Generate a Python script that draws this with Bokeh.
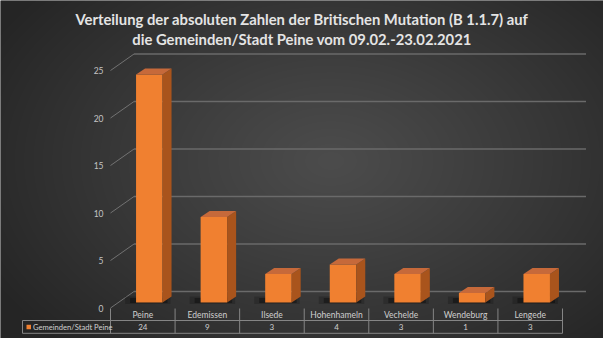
import numpy as np
from bokeh.plotting import figure
from bokeh.models import Range1d, Label, ColumnDataSource
from bokeh.core.properties import value
from bokeh.embed import file_html
from bokeh.resources import INLINE

# ---------------- data ----------------
categories = ["Peine", "Edemissen", "Ilsede", "Hohenhameln", "Vechelde", "Wendeburg", "Lengede"]
counts = [24, 9, 3, 4, 3, 1, 3]
series_name = "Gemeinden/Stadt Peine"
y_ticks = [0, 5, 10, 15, 20, 25]
title_lines = [
    "Verteilung der absoluten Zahlen der Britischen Mutation (B 1.1.7) auf",
    "die Gemeinden/Stadt Peine vom 09.02.-23.02.2021",
]

# ---------------- geometry helpers ----------------
W, H = 603, 338
COL = 64.57   # px per category band
KY = 9.5      # px per value unit
X0 = 142.3    # px centre of first category
Y0 = 307.5    # px (from top) of value 0 on the front plane


def dx(px):
    return px / COL


def dy(px):
    return px / KY


x_range = Range1d(-X0 / COL, (W - X0) / COL)
y_range = Range1d(-(H - Y0) / KY, Y0 / KY)

p = figure(width=W, height=H, x_range=x_range, y_range=y_range,
           output_backend="svg", toolbar_location=None, min_border=0)
p.axis.visible = False
p.grid.visible = False
p.outline_line_color = None
p.background_fill_color = "#333333"
p.border_fill_color = "#333333"

# ---------------- background radial gradient ----------------
yy, xx = np.mgrid[0:H, 0:W]
d = np.sqrt(((xx - 330) / 390.0) ** 2 + ((yy - 160) / 260.0) ** 2)
t = np.clip(d, 0, 1) ** 1.1
c_in = np.array([0x4c, 0x4c, 0x4c], float)
c_out = np.array([0x25, 0x25, 0x25], float)
img = np.empty((H, W), dtype=np.uint32)
view = img.view(dtype=np.uint8).reshape((H, W, 4))
for k in range(3):
    view[:, :, k] = np.flipud(c_in[k] + (c_out[k] - c_in[k]) * t).astype(np.uint8)
view[:, :, 3] = 255
p.image_rgba(image=[img], x=x_range.start, y=y_range.start,
             dw=x_range.end - x_range.start, dh=y_range.end - y_range.start)

# ---------------- 3D frame: back wall grid + left diagonals ----------------
DEPTH_X, DEPTH_Y = dx(23.5), dy(16.5)
left_edge = -0.5
right_edge = len(categories) - 0.5
p.segment(x0=[left_edge + DEPTH_X] * len(y_ticks), y0=[v + DEPTH_Y for v in y_ticks],
          x1=[right_edge + DEPTH_X] * len(y_ticks), y1=[v + DEPTH_Y for v in y_ticks],
          line_color="#6a6a6a", line_width=1.4)
p.segment(x0=[left_edge] * len(y_ticks), y0=y_ticks,
          x1=[left_edge + DEPTH_X] * len(y_ticks), y1=[v + DEPTH_Y for v in y_ticks],
          line_color="#727272", line_width=1)

# y tick labels
p.text(x=[left_edge - dx(7)] * len(y_ticks), y=y_ticks, text=[str(v) for v in y_ticks],
       text_align="right", text_baseline="middle", text_font=value("Lato"),
       text_font_size="8.5px", text_color="#c4c4c4")

# ---------------- bars ----------------
off = dx(6.5)
half = dx(13.25)
base = dy(5.5)
bx, by = dx(9), dy(6)
xs_idx = list(range(len(categories)))
L = [i + off - half for i in xs_idx]
R = [i + off + half for i in xs_idx]
B = [base] * len(counts)
T = [base + v for v in counts]

# shadows
p.quad(left=[l - dx(11) for l in L], right=[r + dx(8) for r in R],
       bottom=[b - dy(1.5) for b in B], top=[b + dy(6) for b in B],
       fill_color="black", fill_alpha=0.18, line_color=None)
p.quad(left=[l - dx(6) for l in L], right=[r + dx(5) for r in R],
       bottom=[b - dy(0.5) for b in B], top=[b + dy(4.5) for b in B],
       fill_color="black", fill_alpha=0.35, line_color=None)

src = ColumnDataSource(dict(left=L, right=R, bottom=B, top=T))
p.quad(left="left", right="right", bottom="bottom", top="top", source=src,
       fill_color="#f08030", line_color=None)
# side faces
p.patches(xs=[[r, r + bx, r + bx, r] for r in R],
          ys=[[b, b + by, t + by, t] for b, t in zip(B, T)],
          fill_color="#a9541c", line_color=None)
# top faces
p.patches(xs=[[l, r, r + bx, l + bx] for l, r in zip(L, R)],
          ys=[[t, t, t + by, t + by] for t in T],
          fill_color="#c6693a", line_color=None)

# ---------------- data table ----------------
tbl_top = -dy(0.5)
tbl_mid = -dy(12.5)
tbl_bot = -dy(25.3)
leg_left = (22 - X0) / COL
grid_col = "#858585"
bounds = [left_edge + k for k in range(len(categories) + 1)]
p.segment(x0=bounds, y0=[tbl_top] * len(bounds), x1=bounds, y1=[tbl_bot] * len(bounds),
          line_color=grid_col, line_width=1)
p.segment(x0=[leg_left, leg_left, leg_left], y0=[tbl_mid, tbl_bot, tbl_mid],
          x1=[right_edge, right_edge, leg_left], y1=[tbl_mid, tbl_bot, tbl_bot],
          line_color=grid_col, line_width=1)

p.text(x=xs_idx, y=[-dy(7.2)] * len(categories), text=categories,
       text_align="center", text_baseline="middle", text_font=value("Lato"),
       text_font_size="8.5px", text_color="#cfcfcf")
p.text(x=xs_idx, y=[-dy(19)] * len(counts), text=[str(v) for v in counts],
       text_align="center", text_baseline="middle", text_font=value("Lato"),
       text_font_size="8px", text_color="#cfcfcf")
p.quad(left=[(26 - X0) / COL], right=[(30.5 - X0) / COL],
       bottom=[-dy(21.3)], top=[-dy(16.8)], fill_color="#f08030", line_color=None)
p.text(x=[(32.5 - X0) / COL], y=[-dy(19)], text=[series_name],
       text_align="left", text_baseline="middle", text_font=value("Lato"),
       text_font_size="7.6px", text_color="#cfcfcf")

# ---------------- title ----------------
for k, line in enumerate(title_lines):
    p.add_layout(Label(x=W / 2, y=H - 18.5 - 19.5 * k, x_units="screen", y_units="screen",
                       text=line, text_align="center", text_baseline="middle",
                       text_font="Lato", text_font_style="bold", text_font_size="14.8px",
                       text_color="#e4e4e4"))

open("out.html", "w").write(file_html(p, INLINE))
